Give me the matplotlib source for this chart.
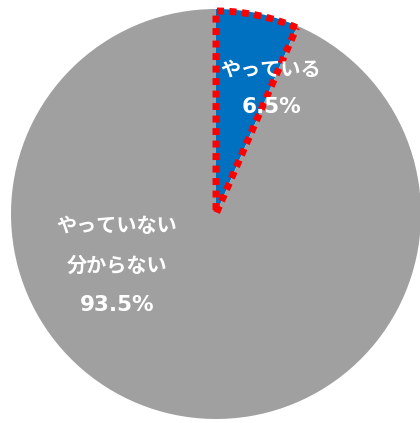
import matplotlib.pyplot as plt
from matplotlib.patches import Wedge

plt.rcParams['font.family'] = ['DejaVu Sans', 'Noto Sans CJK JP']

labels = ['やっている', 'やっていない\n分からない']
values = [6.5, 93.5]
colors = ['#0070C0', '#A0A0A0']

fig = plt.figure(figsize=(4.2, 4.23), dpi=100)
ax = fig.add_axes([0, 0, 1, 1])

cx, cy, r = 216, 423 - 214, 205
wedges, _ = ax.pie(values, colors=colors, startangle=90, counterclock=False,
                   radius=r, center=(cx, cy), frame=True)
ax.set_xlim(0, 420)
ax.set_ylim(0, 423)
ax.set_aspect('equal')
ax.axis('off')

# dotted red outline on the small slice
w = wedges[0]
outline = Wedge((cx, cy), r - 2, w.theta1, w.theta2, fill=False,
                edgecolor='#FF0000', linewidth=5, linestyle=(0, (1, 0.8)))
ax.add_patch(outline)

kw = dict(color='white', fontsize=14.5, fontweight='bold', ha='center', va='center')
nkw = dict(kw, fontsize=15.5)
ax.text(271, 423 - 70, labels[0], **kw)
ax.text(271, 423 - 107, f'{values[0]}%', **nkw)
ax.text(117, 423 - 226, 'やっていない', **kw)
ax.text(117, 423 - 266, '分からない', **kw)
ax.text(117, 423 - 305, f'{values[1]}%', **nkw)

fig.savefig('out.png', dpi=100)
